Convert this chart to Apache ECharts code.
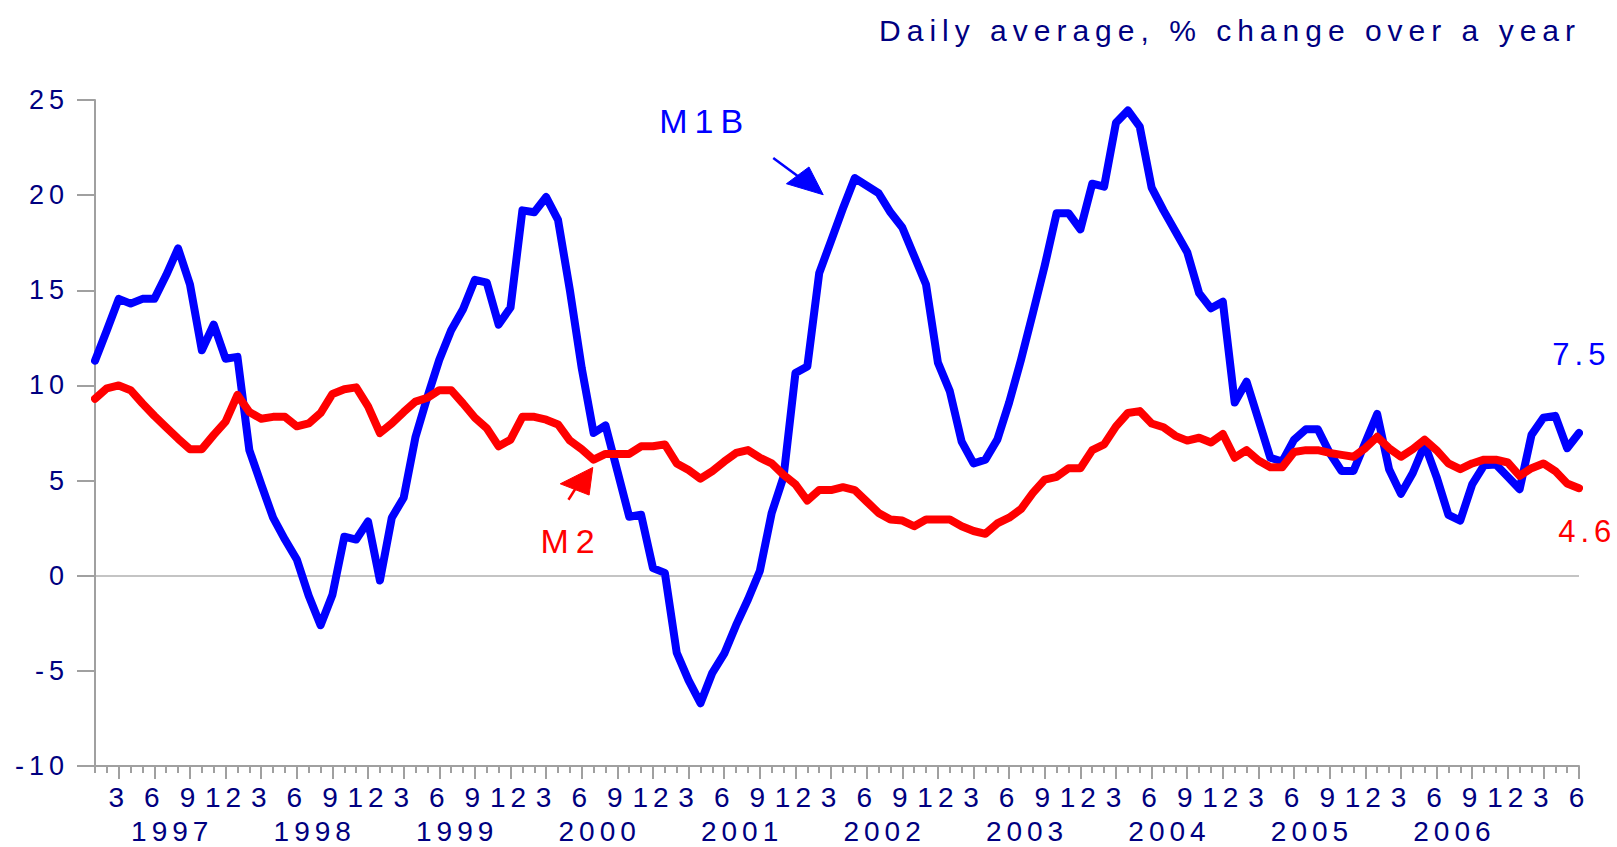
<!DOCTYPE html>
<html>
<head>
<meta charset="utf-8">
<script src="https://cdn.jsdelivr.net/npm/echarts@6/dist/echarts.min.js"></script>
<style>
  html, body { margin: 0; padding: 0; background: #ffffff; }
  #chart { width: 1617px; height: 847px; }
  #chart text[style*="27px"] { letter-spacing: 5px; }
  #chart text[style*="28px"] { letter-spacing: 5px; }
  #chart text[style*="30px"] { letter-spacing: 6px; }
  #chart text[style*="31px"] { letter-spacing: 5px; }
  #chart text[style*="34px"] { letter-spacing: 7px; }
</style>
</head>
<body>
<div id="chart"></div>
<script>
// ---- data (monthly, Jan 1997 - Jun 2007) ----
const startYear = 1997;
const yearTickLabels = ['1997', '1998', '1999', '2000', '2001', '2002', '2003', '2004', '2005', '2006'];
const monthTickLabels = ['1', '2', '3', '4', '5', '6', '7', '8', '9', '10', '11', '12'];
const titleText = 'Daily average, % change over a year';

const m1b = [
  11.3, 12.9, 14.55, 14.3, 14.55, 14.55, 15.8, 17.2, 15.3, 11.85, 13.2, 11.4,   // 1997
  11.5, 6.6, 4.8, 3.05, 1.9, 0.85, -1.05, -2.6, -1.0, 2.05, 1.9, 2.85,         // 1998
  -0.25, 3.05, 4.1, 7.3, 9.4, 11.35, 12.9, 14.0, 15.55, 15.4, 13.2, 14.1,      // 1999
  19.2, 19.1, 19.9, 18.7, 15.0, 10.9, 7.5, 7.9, 5.5, 3.1, 3.2, 0.4,            // 2000
  0.15, -4.05, -5.5, -6.7, -5.1, -4.1, -2.6, -1.25, 0.25, 3.3, 5.2, 10.65,     // 2001
  11.0, 15.9, 17.6, 19.3, 20.9, 20.5, 20.1, 19.1, 18.3, 16.8, 15.3, 11.2,      // 2002
  9.7, 7.05, 5.9, 6.1, 7.15, 9.1, 11.35, 13.8, 16.3, 19.05, 19.05, 18.2,       // 2003
  20.6, 20.45, 23.8, 24.45, 23.6, 20.4, 19.2, 18.1, 17.0, 14.85, 14.05, 14.4,  // 2004
  9.1, 10.2, 8.2, 6.2, 6.0, 7.15, 7.7, 7.7, 6.45, 5.5, 5.5, 7.0,               // 2005
  8.5, 5.6, 4.3, 5.4, 6.9, 5.2, 3.2, 2.9, 4.8, 5.8, 5.85, 5.2,                 // 2006
  4.55, 7.4, 8.3, 8.4, 6.7, 7.5                                                // 2007
];

const m2 = [
  9.3, 9.85, 10.0, 9.75, 9.05, 8.4, 7.8, 7.2, 6.65, 6.65, 7.4, 8.1,            // 1997
  9.5, 8.6, 8.25, 8.35, 8.35, 7.85, 8.0, 8.55, 9.55, 9.8, 9.9, 8.9,            // 1998
  7.5, 8.0, 8.6, 9.15, 9.35, 9.75, 9.75, 9.05, 8.3, 7.75, 6.8, 7.15,           // 1999
  8.35, 8.35, 8.2, 7.95, 7.1, 6.65, 6.1, 6.4, 6.4, 6.4, 6.8, 6.8,              // 2000
  6.9, 5.9, 5.55, 5.1, 5.5, 6.0, 6.45, 6.6, 6.2, 5.9, 5.3, 4.8,                // 2001
  3.95, 4.5, 4.5, 4.65, 4.5, 3.9, 3.3, 2.95, 2.9, 2.6, 2.95, 2.95,             // 2002
  2.95, 2.6, 2.35, 2.2, 2.75, 3.05, 3.5, 4.35, 5.05, 5.2, 5.65, 5.65,          // 2003
  6.6, 6.9, 7.85, 8.55, 8.65, 8.0, 7.8, 7.35, 7.1, 7.25, 7.0, 7.45,            // 2004
  6.2, 6.6, 6.05, 5.7, 5.7, 6.5, 6.6, 6.6, 6.45, 6.35, 6.25, 6.7,              // 2005
  7.3, 6.7, 6.25, 6.65, 7.15, 6.6, 5.9, 5.6, 5.9, 6.1, 6.1, 5.95,              // 2006
  5.25, 5.65, 5.9, 5.5, 4.85, 4.6                                              // 2007
];

// category keys "YYYY-MM"
const categories = [];
for (let k = 0; k < m1b.length; k++) {
  const y = startYear + Math.floor(k / 12);
  categories.push(y + '-' + monthTickLabels[k % 12]);
}

const NAVY = '#000080';
const AXIS_GRAY = '#a0a0a0';
const FONT = 'Liberation Sans, Arial, sans-serif';

const chart = echarts.init(document.getElementById('chart'), null, { renderer: 'svg', width: 1617, height: 847 });

const option = {
  animation: false,
  backgroundColor: '#ffffff',
  textStyle: { fontFamily: FONT },
  grid: { left: 95, right: 38, top: 100, bottom: 81, containLabel: false },
  xAxis: [
    {
      type: 'category',
      position: 'bottom',
      data: categories,
      boundaryGap: false,
      axisLine: { show: true, onZero: false, lineStyle: { color: AXIS_GRAY, width: 2 } },
      axisTick: { show: true, interval: 0, length: 7, lineStyle: { color: AXIS_GRAY, width: 2 } },
      axisLabel: {
        show: true,
        interval: function (idx) { return (idx % 12 + 1) % 3 === 0; },
        formatter: function (val, idx) { return monthTickLabels[idx % 12]; },
        color: NAVY, fontSize: 28, fontFamily: FONT, margin: 17
      },
      splitLine: { show: false }
    },
    {
      type: 'category',
      position: 'bottom',
      data: categories,
      boundaryGap: false,
      axisLine: { show: false, onZero: false },
      axisTick: {
        show: true, length: 13,
        interval: function (idx) { return (idx % 12 + 1) % 3 === 0; },
        lineStyle: { color: AXIS_GRAY, width: 2 }
      },
      axisLabel: {
        show: true,
        interval: function (idx) { return idx % 12 === 6; },
        formatter: function (val, idx) { return yearTickLabels[Math.floor(idx / 12)] || ''; },
        color: NAVY, fontSize: 28, fontFamily: FONT, margin: 51,
        padding: [0, 0, 0, 12]
      },
      splitLine: { show: false }
    }
  ],
  yAxis: {
    type: 'value',
    min: -10, max: 25, interval: 5,
    axisLine: { show: true, onZero: false, lineStyle: { color: AXIS_GRAY, width: 2 } },
    axisTick: { show: true, length: 18, lineStyle: { color: AXIS_GRAY, width: 2 } },
    axisLabel: { color: NAVY, fontSize: 27, fontFamily: FONT, margin: 26 },
    splitLine: {
      show: true,
      lineStyle: {
        width: 2,
        color: ['rgba(0,0,0,0)', 'rgba(0,0,0,0)', '#c4c4c4', 'rgba(0,0,0,0)',
                'rgba(0,0,0,0)', 'rgba(0,0,0,0)', 'rgba(0,0,0,0)', 'rgba(0,0,0,0)']
      }
    }
  },
  series: [
    {
      name: 'M1B', type: 'line', data: m1b, xAxisIndex: 0, yAxisIndex: 0,
      symbol: 'none', smooth: false, z: 3,
      lineStyle: { color: '#0000ff', width: 8, join: 'round', cap: 'round' }
    },
    {
      name: 'M2', type: 'line', data: m2, xAxisIndex: 0, yAxisIndex: 0,
      symbol: 'none', smooth: false, z: 4,
      lineStyle: { color: '#ff0000', width: 8, join: 'round', cap: 'round' }
    }
  ]
};

chart.setOption(option);

// ---- annotations placed in data space (index, value) ----
const lastIdx = categories.length - 1;
function toPx(i, v) {
  const a = chart.convertToPixel({ gridIndex: 0 }, [0, v]);
  const b = chart.convertToPixel({ gridIndex: 0 }, [lastIdx, v]);
  return [a[0] + (b[0] - a[0]) * i / lastIdx, a[1]];
}
function label(text, i, v, color, size) {
  const p = toPx(i, v);
  return {
    type: 'text', x: p[0], y: p[1], z: 10,
    style: { text: text, fill: color, fontSize: size, fontFamily: FONT, align: 'center', verticalAlign: 'middle' }
  };
}
function arrow(color, shaftFrom, shaftTo, tip, c1, c2) {
  const s0 = toPx(shaftFrom[0], shaftFrom[1]);
  const s1 = toPx(shaftTo[0], shaftTo[1]);
  return [
    { type: 'line', z: 10, shape: { x1: s0[0], y1: s0[1], x2: s1[0], y2: s1[1] },
      style: { stroke: color, lineWidth: 2.5 } },
    { type: 'polygon', z: 10, shape: { points: [toPx(tip[0], tip[1]), toPx(c1[0], c1[1]), toPx(c2[0], c2[1])] },
      style: { fill: color, stroke: color, lineWidth: 1 } }
  ];
}

const graphics = [].concat(
  [{
    type: 'text', x: 1581, y: 30, z: 10,
    style: { text: titleText, fill: NAVY, fontSize: 30, fontFamily: FONT, align: 'right', verticalAlign: 'middle' }
  }],
  [label('M1B', 51.35, 23.9, '#0000ff', 34)],
  arrow('#0000ff', [57.13, 21.95], [59.3, 20.95], [61.34, 20.02], [58.24, 20.6], [60.14, 21.48]),
  [label('M2', 40.1, 1.8, '#ff0000', 34)],
  arrow('#ff0000', [39.88, 3.99], [40.6, 4.7], [41.93, 5.69], [39.19, 4.83], [41.62, 4.24]),
  [label(m1b[lastIdx].toFixed(1), lastIdx + 0.2, 11.6, '#0000ff', 31)],
  [label(m2[lastIdx].toFixed(1), lastIdx + 0.7, 2.3, '#ff0000', 31)]
);

chart.setOption({ graphic: graphics });
</script>
</body>
</html>
